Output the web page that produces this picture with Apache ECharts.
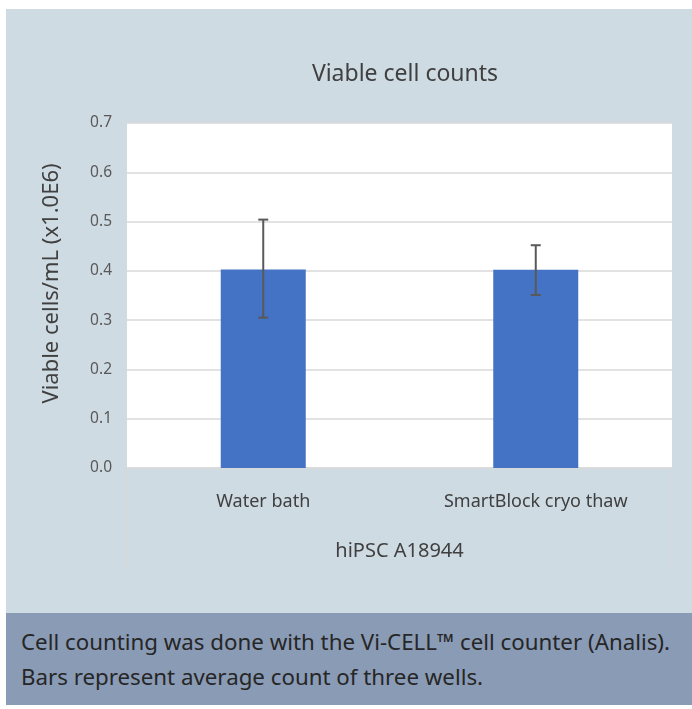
<!DOCTYPE html>
<html><head><meta charset="utf-8">
<script src="https://cdn.jsdelivr.net/npm/echarts@6/dist/echarts.min.js"></script>
<style>
html,body{margin:0;padding:0;background:#fff;}
#wrap{position:absolute;left:6px;top:9px;width:686px;height:604px;background:#CFDBE3;}
#cap{position:absolute;left:6px;top:613px;width:686px;height:92px;background:#8A9BB5;color:#262626;font-family:"Noto Sans",sans-serif;font-size:22.3px;line-height:35px;box-sizing:border-box;padding:11px 0 0 15px;white-space:nowrap;}
#chart{position:absolute;left:0;top:0;width:692px;height:613px;}
</style></head><body>
<div id="wrap"></div>
<div id="chart"></div>
<div id="cap">Cell counting was done with the Vi-CELL™ cell counter (Analis).<br>Bars represent average count of three wells.</div>
<script>
const categories = ['Water bath', 'SmartBlock cryo thaw'];
const groupLabel = ['hiPSC A18944'];
const means = [0.403, 0.402];
const errLow = [0.305, 0.351];
const errHigh = [0.504, 0.452];
const yTicks = { min: 0, max: 0.7, interval: 0.1 };

const chart = echarts.init(document.getElementById('chart'), null, {renderer: 'canvas'});
const font = '"Noto Sans", sans-serif';
chart.setOption({
  animation: false,
  title: {
    text: 'Viable cell counts', left: 400, top: 58, textAlign: 'center',
    textStyle: {fontFamily: font, fontSize: 23, fontWeight: 'normal', color: '#404040'}
  },
  grid: {left: 127, right: 20, top: 123, bottom: 145, backgroundColor: '#fff', show: true, borderWidth: 0},
  xAxis: [{
    type: 'category', data: categories,
    axisLine: {lineStyle: {color: '#D9D9D9', width: 1.5}},
    axisTick: {show: false},
    axisLabel: {margin: 25, fontFamily: font, fontSize: 18, color: '#404040'}
  }, {
    type: 'category', data: groupLabel, position: 'bottom',
    axisLine: {show: false},
    axisTick: {show: true, length: 100, lineStyle: {color: '#D9D9D9', width: 1.5}},
    axisLabel: {margin: 73, fontFamily: font, fontSize: 20, color: '#404040'}
  }],
  yAxis: {
    type: 'value', min: yTicks.min, max: yTicks.max, interval: yTicks.interval,
    name: 'Viable cells/mL (x1.0E6)', nameLocation: 'middle', nameGap: 64,
    nameTextStyle: {fontFamily: font, fontSize: 22, color: '#404040', padding: [0, 0, 0, 24]},
    axisLine: {show: false}, axisTick: {show: false},
    axisLabel: {margin: 15, fontFamily: font, fontSize: 15.5, color: '#595959', formatter: v => v.toFixed(1)},
    splitLine: {lineStyle: {color: '#D9D9D9', width: 1.5}}
  },
  series: [{
    type: 'bar', data: means, barWidth: 85, xAxisIndex: 0,
    itemStyle: {color: '#4472C4'}
  }, {
    type: 'custom', xAxisIndex: 0,
    data: categories.map((c, i) => [i, errLow[i], errHigh[i]]),
    renderItem: (params, api) => {
      const lo = api.coord([api.value(0), api.value(1)]);
      const hi = api.coord([api.value(0), api.value(2)]);
      const w = 5;
      const st = {stroke: '#595959', lineWidth: 2};
      return {type: 'group', children: [
        {type: 'line', shape: {x1: hi[0], y1: hi[1], x2: lo[0], y2: lo[1]}, style: st},
        {type: 'line', shape: {x1: hi[0]-w, y1: hi[1], x2: hi[0]+w, y2: hi[1]}, style: st},
        {type: 'line', shape: {x1: lo[0]-w, y1: lo[1], x2: lo[0]+w, y2: lo[1]}, style: st}
      ]};
    },
    z: 10
  }]
});
</script>
</body></html>
